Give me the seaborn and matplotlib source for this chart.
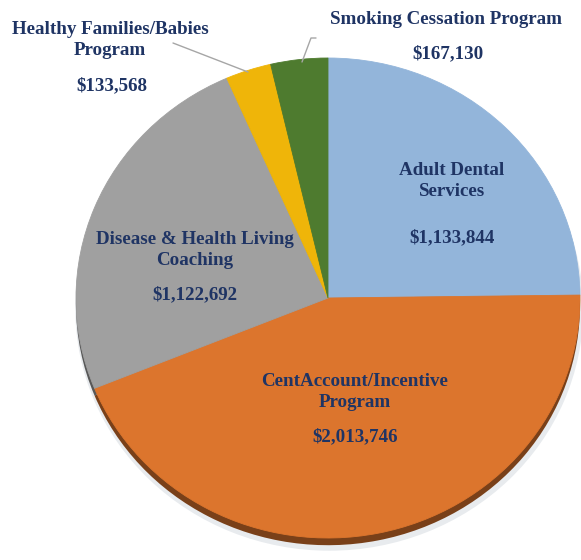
import matplotlib.pyplot as plt
import matplotlib.colors as mcolors
import seaborn as sns

programs = ['Adult Dental\nServices', 'CentAccount/Incentive\nProgram',
            'Disease & Health Living\nCoaching', 'Healthy Families/Babies\nProgram',
            'Smoking Cessation Program']
amounts = [1133844, 2013746, 1122692, 133568, 167130]
colors = ['#93B5DA', '#DC752D', '#A0A0A0', '#EFB509', '#4E7B2F']

sns.set_theme(style='white')
plt.rcParams['font.family'] = ['Liberation Serif', 'DejaVu Serif']

W, H = 581, 560
fig = plt.figure(figsize=(W / 100, H / 100), dpi=100)
ax = fig.add_axes([0, 0, 1, 1])

# pie centre / radii in pixels (slightly wider than tall)
cx, cy, rx, ry = 328, 298, 252, 240


def px(x, y):
    return x / W, 1 - y / H


# soft drop shadow + dark rim underneath
ax.pie([1], colors=['#B4BDC7'], radius=1.008, center=(0.005, -0.045),
       wedgeprops=dict(linewidth=0, alpha=0.3))
dark = [tuple(c * 0.55 for c in mcolors.to_rgb(col)) for col in colors]
ax.pie(amounts, colors=dark, startangle=90, counterclock=False,
       center=(0, -0.03), wedgeprops=dict(linewidth=0))
ax.pie(amounts, colors=colors, startangle=90, counterclock=False,
       wedgeprops=dict(linewidth=0.6))
for w in ax.patches[-len(amounts):]:
    w.set_edgecolor(w.get_facecolor())

ax.set_aspect('auto')
ax.set_xlim(-cx / rx, (W - cx) / rx)
ax.set_ylim(-(H - cy) / ry, cy / ry)
ax.axis('off')

navy = '#1F3464'
label_pos = [(452, 181), (355, 392), (195, 250), (110, 40), (446, 20)]
value_pos = [(452, 238), (355, 437), (195, 295), (112, 86), (448, 54)]
for name, amt, lp, vp in zip(programs, amounts, label_pos, value_pos):
    ax.text(*px(*lp), name, transform=ax.transAxes, ha='center', va='center',
            fontsize=13.7, fontweight='bold', color=navy, linespacing=1.35)
    ax.text(*px(*vp), f'${amt:,}', transform=ax.transAxes, ha='center',
            va='center', fontsize=13.7, fontweight='bold', color=navy)

# leader lines
for pts in [[(173, 43), (248, 72)], [(316, 38), (311, 38), (302, 62)]]:
    xs, ys = zip(*[px(*p) for p in pts])
    ax.plot(xs, ys, transform=ax.transAxes, color='#A6A6A6', lw=1)

fig.savefig('out.png', dpi=100)
